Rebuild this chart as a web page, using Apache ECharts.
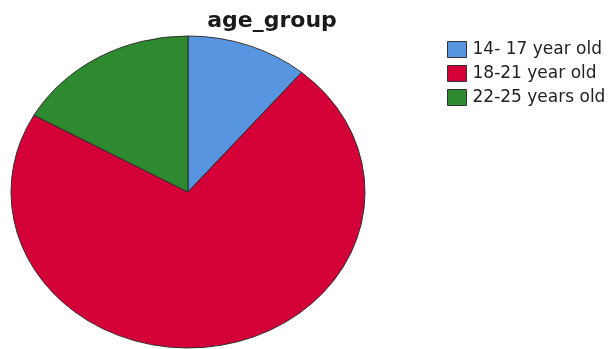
<!DOCTYPE html>
<html>
<head>
<meta charset="utf-8">
<script src="https://cdn.jsdelivr.net/npm/echarts@6/dist/echarts.min.js"></script>
<style>html,body{margin:0;padding:0;background:#fff}#c{width:614px;height:349px}</style>
</head>
<body>
<div id="c"></div>
<script>
const categories = ['14- 17 year old', '18-21 year old', '22-25 years old'];
const values = [11.1, 72.1, 16.8];
const colors = ['#5895e0', '#d40038', '#2e8a2e'];
const titleText = 'age_group';

const total = values.reduce((a, b) => a + b, 0);
const PIE = { cx: 188, cy: 192, rx: 177, ry: 156 };

function makeRender(idx) {
  return function (params, api) {
    let before = 0;
    for (let i = 0; i < idx; i++) before += values[i];
    const v = api.value(0);
    const start = -Math.PI / 2 + before / total * Math.PI * 2;
    const end = start + v / total * Math.PI * 2;
    return {
      type: 'sector',
      x: PIE.cx, y: PIE.cy,
      scaleY: PIE.ry / PIE.rx,
      shape: { cx: 0, cy: 0, r0: 0, r: PIE.rx, startAngle: start, endAngle: end, clockwise: true },
      style: { fill: colors[idx], stroke: '#2a2a2a', lineWidth: 1, strokeNoScale: true }
    };
  };
}

const chart = echarts.init(document.getElementById('c'), null, { renderer: 'canvas' });
chart.setOption({
  animation: false,
  backgroundColor: '#fff',
  title: {
    text: titleText, left: 267, top: 5, textAlign: 'center',
    textStyle: { fontFamily: 'DejaVu Sans', fontWeight: 'bold', fontSize: 22, color: '#1a1a1a' }
  },
  legend: {
    orient: 'vertical', left: 447, top: 41, padding: 0,
    itemWidth: 19, itemHeight: 16, itemGap: 7,
    icon: 'rect',
    itemStyle: { borderColor: '#333', borderWidth: 1 },
    textStyle: { fontFamily: 'DejaVu Sans', fontSize: 17, color: '#222', padding: [0, 0, 0, 1] },
    data: categories
  },
  series: categories.map((name, i) => ({
    type: 'custom', name: name, coordinateSystem: 'none',
    itemStyle: { color: colors[i] },
    data: [[values[i]]],
    renderItem: makeRender(i)
  }))
});
</script>
</body>
</html>
